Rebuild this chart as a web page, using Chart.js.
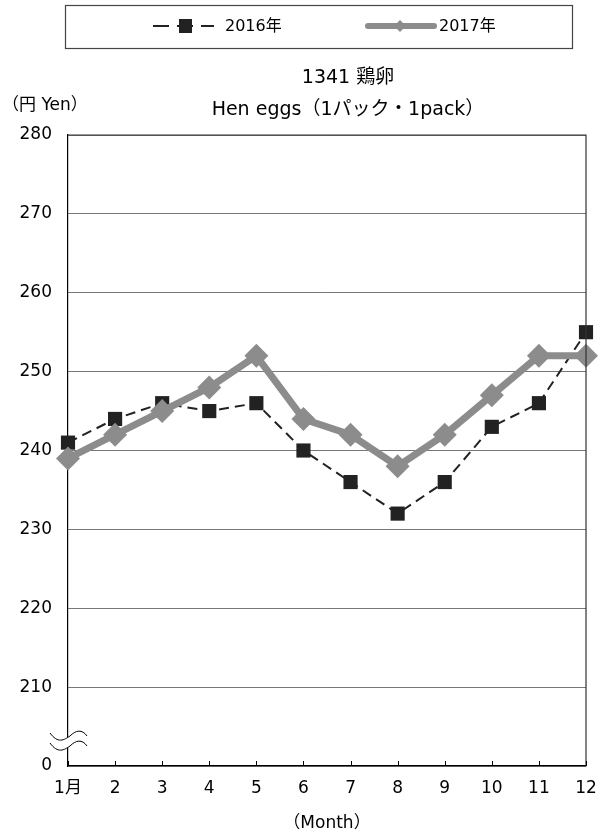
<!DOCTYPE html>
<html>
<head>
<meta charset="utf-8">
<script src="https://cdn.jsdelivr.net/npm/chart.js@4.4.1/dist/chart.umd.min.js"></script>
<style>
  html, body { margin: 0; padding: 0; background: #fff; }
</style>
</head>
<body>
<canvas id="myChart" width="611" height="834"></canvas>
<script>
// data
const months = ['1月', '2', '3', '4', '5', '6', '7', '8', '9', '10', '11', '12'];
const eggs2016 = [241, 244, 246, 245, 246, 240, 236, 232, 236, 243, 246, 255];
const eggs2017 = [239, 242, 245, 248, 252, 244, 242, 238, 242, 247, 252, 252];
const yTickValues = [200, 210, 220, 230, 240, 250, 260, 270, 280];
const yTickLabels = ['0', '210', '220', '230', '240', '250', '260', '270', '280'];
const seriesNames = ['2016年', '2017年'];
const titleLines = ['1341 鶏卵', 'Hen eggs（1パック・1pack）'];
const yUnit = '（円 Yen）';
const xUnit = '（Month）';

const FONT = '"DejaVu Sans", "Noto Sans CJK JP", sans-serif';
const black = '#222222';
const gray = '#8c8c8c';

// title, unit, legend box, axis break, inner ticks, frame
const decorations = {
  id: 'decorations',
  afterDraw(chart) {
    const ctx = chart.ctx;
    const area = chart.chartArea;
    const xs = chart.scales.x;
    ctx.save();

    // frame (top + right)
    ctx.strokeStyle = '#333';
    ctx.lineWidth = 1.2;
    ctx.beginPath();
    ctx.moveTo(area.left, area.top);
    ctx.lineTo(area.right, area.top);
    ctx.lineTo(area.right, area.bottom);
    ctx.stroke();

    // little ticks pointing into the plot
    ctx.strokeStyle = '#000';
    ctx.lineWidth = 1;
    months.forEach((m, i) => {
      const x = Math.round(xs.getPixelForValue(i)) + 0.5;
      ctx.beginPath();
      ctx.moveTo(x, area.bottom);
      ctx.lineTo(x, area.bottom - 5);
      ctx.stroke();
    });

    // axis break
    const bx = area.left - 18, bw = 37, y1 = 736, y2 = 746;
    function wave(y) {
      ctx.moveTo(bx, y - 3);
      ctx.bezierCurveTo(bx + 8, y + 8, bx + 14, y + 4, bx + 20, y);
      ctx.bezierCurveTo(bx + 26, y - 6, bx + 32, y - 7, bx + bw, y);
    }
    ctx.fillStyle = '#fff';
    ctx.beginPath();
    wave(y1);
    ctx.lineTo(bx + bw, y2);
    ctx.bezierCurveTo(bx + 32, y2 - 7, bx + 26, y2 - 6, bx + 20, y2);
    ctx.bezierCurveTo(bx + 14, y2 + 4, bx + 8, y2 + 8, bx, y2 - 3);
    ctx.closePath();
    ctx.fill();
    ctx.strokeStyle = '#000';
    ctx.lineWidth = 1;
    ctx.beginPath();
    wave(y1);
    ctx.stroke();
    ctx.beginPath();
    wave(y2);
    ctx.stroke();

    // title
    ctx.fillStyle = '#000';
    ctx.font = '19px ' + FONT;
    ctx.textAlign = 'center';
    ctx.textBaseline = 'middle';
    ctx.fillText(titleLines[0], 348, 78);
    ctx.fillText(titleLines[1], 348, 110);

    // y unit
    ctx.font = '17px ' + FONT;
    ctx.textAlign = 'left';
    ctx.fillText(yUnit, 2, 106);

    // legend box
    ctx.strokeStyle = '#444';
    ctx.lineWidth = 1.2;
    ctx.strokeRect(65.5, 5.5, 507, 43);

    const ly = 26;
    // 2016 sample
    ctx.strokeStyle = black;
    ctx.lineWidth = 2;
    ctx.setLineDash([16, 8]);
    ctx.beginPath();
    ctx.moveTo(153, ly);
    ctx.lineTo(214, ly);
    ctx.stroke();
    ctx.setLineDash([]);
    ctx.fillStyle = black;
    ctx.fillRect(179, ly - 7, 13, 14);
    ctx.fillStyle = '#000';
    ctx.font = '16px ' + FONT;
    ctx.fillText(seriesNames[0], 225, ly + 1);

    // 2017 sample
    ctx.strokeStyle = gray;
    ctx.lineWidth = 6;
    ctx.lineCap = 'round';
    ctx.beginPath();
    ctx.moveTo(368, ly);
    ctx.lineTo(434, ly);
    ctx.stroke();
    ctx.fillStyle = gray;
    ctx.beginPath();
    ctx.moveTo(400, ly - 6);
    ctx.lineTo(406, ly);
    ctx.lineTo(400, ly + 6);
    ctx.lineTo(394, ly);
    ctx.closePath();
    ctx.fill();
    ctx.fillStyle = '#000';
    ctx.fillText(seriesNames[1], 439, ly + 1);

    ctx.restore();
  }
};

new Chart(document.getElementById('myChart'), {
  type: 'line',
  data: {
    labels: months,
    datasets: [
      {
        label: seriesNames[1],
        data: eggs2017,
        borderColor: gray,
        backgroundColor: gray,
        borderWidth: 7,
        pointStyle: 'rectRot',
        pointRadius: 12,
        pointBorderWidth: 0,
        tension: 0,
        order: 1
      },
      {
        label: seriesNames[0],
        data: eggs2016,
        borderColor: black,
        backgroundColor: black,
        borderWidth: 2,
        borderDash: [10, 6],
        pointStyle: 'rect',
        pointRadius: 10,
        pointBorderWidth: 0,
        tension: 0,
        order: 2
      }
    ]
  },
  options: {
    responsive: false,
    animation: false,
    layout: {
      autoPadding: false,
      padding: { top: 135, right: 25, left: 0, bottom: 0 }
    },
    plugins: {
      legend: { display: false },
      title: { display: false },
      tooltip: { enabled: false }
    },
    scales: {
      x: {
        type: 'category',
        offset: false,
        grid: { display: false, drawTicks: false },
        border: { display: true, color: '#000', width: 1.2 },
        ticks: {
          color: '#000',
          font: { family: FONT, size: 17 },
          padding: 12,
          maxRotation: 0,
          autoSkip: false
        },
        title: {
          display: true,
          text: xUnit,
          color: '#000',
          font: { family: FONT, size: 17 },
          padding: { top: 4, bottom: 0 }
        },
        afterFit(scale) { scale.height = 68; }
      },
      y: {
        min: 200,
        max: 280,
        afterBuildTicks(scale) {
          scale.ticks = yTickValues.map(v => ({ value: v }));
        },
        grid: {
          drawTicks: false,
          color: '#777',
          lineWidth: 1
        },
        border: { display: true, color: '#000', width: 1.2 },
        ticks: {
          color: '#000',
          font: { family: FONT, size: 17 },
          padding: 16,
          callback(value) {
            const i = yTickValues.indexOf(value);
            return i >= 0 ? yTickLabels[i] : '';
          }
        },
        afterFit(scale) { scale.width = 68; }
      }
    }
  },
  plugins: [decorations]
});
</script>
</body>
</html>
